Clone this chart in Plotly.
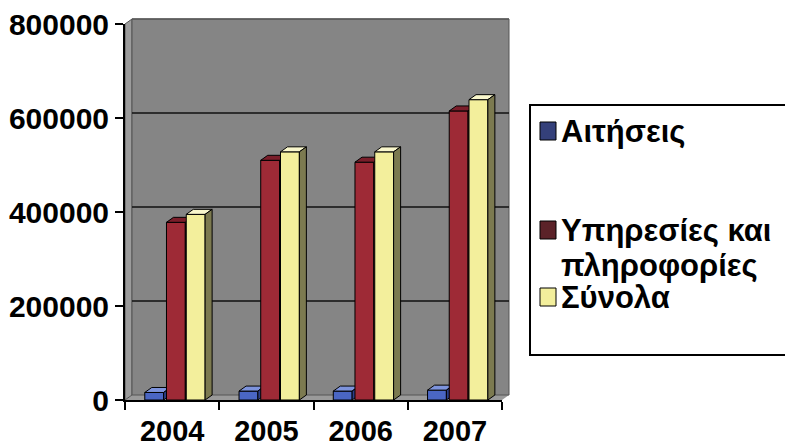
import plotly.graph_objects as go

# Yearly counts per series
years = ["2004", "2005", "2006", "2007"]
series_names = ["Αιτήσεις", "Υπηρεσίες και πληροφορίες", "Σύνολα"]
aitiseis = [16000, 19000, 19000, 21000]
ypiresies = [378000, 510000, 506000, 615000]
synola = [395000, 528000, 528000, 639000]
y_ticks = [0, 200000, 400000, 600000, 800000]

# Face colours for the pseudo-3D columns: front, top, side
front_colors = ["#4a66c4", "#9e2a36", "#f3ef9c"]
top_colors = ["#7d93dc", "#7a1e2a", "#f9f7cc"]
side_colors = ["#2c3f88", "#5e1a20", "#7c7a50"]
legend_colors = ["#34407a", "#5b2228", "#f3ef9c"]

FONT = "Liberation Sans"

# Plot-area geometry in pixels
W, H = 785, 447
L, R, T, B = 125, 502, 24, 400
PW, PH = R - L, B - T
DX, DY = 7, 5                      # depth offset of the 3D look (px)
X_MIN, X_MAX = -0.5, 3.5
Y_MAX = 800000

dxu = DX * (X_MAX - X_MIN) / PW    # depth offset in data units
dyu = DY * Y_MAX / PH

def px_x(p):
    return (p - L) / PW

def px_y(p):
    return (B - p) / PH

offsets = [-0.19, 0.04, 0.25]
bar_w = 0.2

fig = go.Figure()

all_values = [aitiseis, ypiresies, synola]
for s, vals in enumerate(all_values):
    fx, fy, tx, ty, sx, sy = [], [], [], [], [], []
    for i, v in enumerate(vals):
        x0 = i + offsets[s] - bar_w / 2
        x1 = x0 + bar_w
        fx += [x0, x1, x1, x0, x0, None]
        fy += [0, 0, v, v, 0, None]
        tx += [x0, x1, x1 + dxu, x0 + dxu, x0, None]
        ty += [v, v, v + dyu, v + dyu, v, None]
        sx += [x1, x1 + dxu, x1 + dxu, x1, x1, None]
        sy += [0, dyu, v + dyu, v, 0, None]
    for xs, ys, col in ((fx, fy, front_colors[s]), (tx, ty, top_colors[s]), (sx, sy, side_colors[s])):
        fig.add_trace(go.Scatter(
            x=xs, y=ys, mode="lines", fill="toself", fillcolor=col,
            line=dict(color="black", width=1), name=series_names[s],
            showlegend=False, hoverinfo="skip",
        ))

shapes = []
# floor, left wall and back wall
shapes.append(dict(type="path", xref="paper", yref="paper", layer="below",
                   path=f"M {px_x(L)},{px_y(B)} L {px_x(R)},{px_y(B)} L {px_x(R+DX)},{px_y(B-DY)} L {px_x(L+DX)},{px_y(B-DY)} Z",
                   fillcolor="#9a9a9a", line=dict(width=0)))
shapes.append(dict(type="path", xref="paper", yref="paper", layer="below",
                   path=f"M {px_x(L)},{px_y(B)} L {px_x(L)},{px_y(T)} L {px_x(L+DX)},{px_y(T-DY)} L {px_x(L+DX)},{px_y(B-DY)} Z",
                   fillcolor="#9c9c9c", line=dict(color="#555555", width=1)))
shapes.append(dict(type="rect", xref="paper", yref="paper", layer="below",
                   x0=px_x(L+DX), x1=px_x(R+DX), y0=px_y(B-DY), y1=px_y(T-DY),
                   fillcolor="#858585", line=dict(color="#555555", width=1)))
# gridlines on the back wall
for v in y_ticks[1:]:
    yp = v / Y_MAX + DY / PH
    shapes.append(dict(type="line", xref="paper", yref="paper", layer="below",
                       x0=px_x(L+DX), x1=px_x(R+DX), y0=yp, y1=yp,
                       line=dict(color="#111111" if v < Y_MAX else "#5a5a5a", width=1.6)))

# legend box
shapes.append(dict(type="rect", xref="paper", yref="paper",
                   x0=px_x(530), x1=px_x(792), y0=px_y(355), y1=px_y(105),
                   fillcolor="white", line=dict(color="black", width=2)))
legend_rows = [131, 230, 297]
annotations = []
for s, yc in enumerate(legend_rows):
    shapes.append(dict(type="rect", xref="paper", yref="paper",
                       x0=px_x(540), x1=px_x(556), y0=px_y(yc + 9), y1=px_y(yc - 9),
                       fillcolor=legend_colors[s], line=dict(color="black", width=1)))
legend_lines = [("Αιτήσεις", 131), ("Υπηρεσίες και", 230), ("πληροφορίες", 265), ("Σύνολα", 297)]
for txt, yc in legend_lines:
    annotations.append(dict(text=txt, xref="paper", yref="paper", x=px_x(559), y=px_y(yc),
                            xanchor="left", yanchor="middle", showarrow=False,
                            font=dict(family=FONT, size=31, color="black", weight="bold")))

fig.update_layout(
    width=W, height=H,
    margin=dict(l=L, r=W - R, t=T, b=H - B, pad=0),
    paper_bgcolor="white", plot_bgcolor="rgba(0,0,0,0)",
    shapes=shapes, annotations=annotations, showlegend=False,
    font=dict(family=FONT, color="black"),
)
fig.update_xaxes(
    range=[X_MIN, X_MAX], tickvals=[0, 1, 2, 3], ticktext=years, automargin=False,
    showgrid=False, zeroline=False, showline=True, linecolor="black", linewidth=2,
    ticks="outside", ticklen=4, tickcolor="rgba(0,0,0,0)",
    tickfont=dict(family=FONT, size=29, color="black", weight="bold"),
    minor=dict(tickvals=[-0.5, 0.5, 1.5, 2.5, 3.5], ticks="outside", ticklen=8,
               tickwidth=2, tickcolor="black", showgrid=False),
    fixedrange=True,
)
fig.update_yaxes(
    range=[0, Y_MAX], tickvals=y_ticks, ticktext=[str(v) for v in y_ticks], automargin=False,
    showgrid=False, zeroline=False, showline=True, linecolor="black", linewidth=2,
    ticks="outside", ticklen=8, tickwidth=2, tickcolor="black",
    tickfont=dict(family=FONT, size=30, color="black", weight="bold"),
    fixedrange=True,
)

fig.write_html("out.html")
